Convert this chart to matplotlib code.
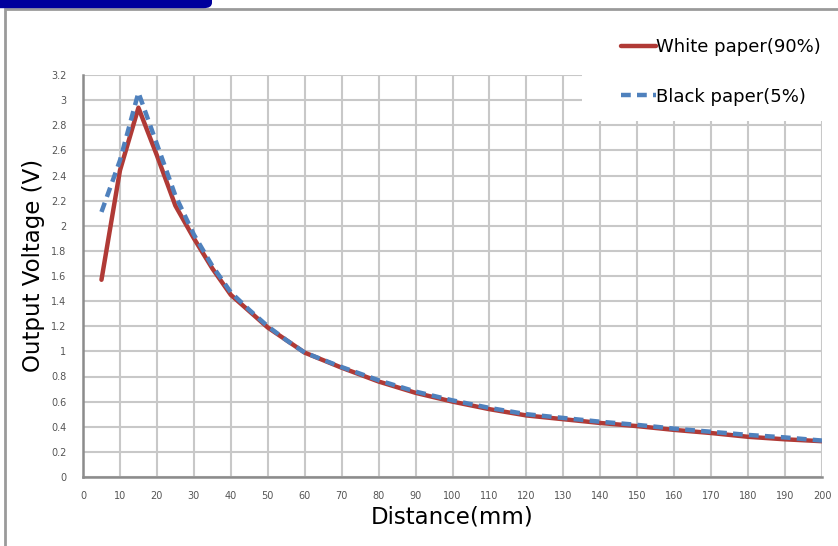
import matplotlib.pyplot as plt
from matplotlib.patches import Rectangle, FancyBboxPatch

# distance in mm
distance = [5, 10, 15, 20, 25, 30, 35, 40, 45, 50, 55, 60, 70, 80, 90, 100,
            110, 120, 130, 140, 150, 160, 170, 180, 190, 200]
# output voltage, white paper (90%)
white_v = [1.57, 2.44, 2.94, 2.56, 2.16, 1.90, 1.66, 1.45, 1.32, 1.19, 1.09, 0.99,
           0.87, 0.76, 0.67, 0.60, 0.54, 0.49, 0.46, 0.43, 0.405, 0.375, 0.35,
           0.32, 0.30, 0.285]
# output voltage, black paper (5%)
black_v = [2.11, 2.52, 3.06, 2.65, 2.24, 1.93, 1.68, 1.47, 1.33, 1.20, 1.09, 0.99,
           0.875, 0.77, 0.68, 0.61, 0.55, 0.50, 0.47, 0.44, 0.415, 0.385, 0.36,
           0.335, 0.315, 0.29]

x_ticks = list(range(0, 201, 10))
y_ticks = [0, 0.2, 0.4, 0.6, 0.8, 1, 1.2, 1.4, 1.6, 1.8, 2, 2.2, 2.4, 2.6, 2.8, 3, 3.2]
y_tick_labels = ["0", "0.2", "0.4", "0.6", "0.8", "1", "1.2", "1.4", "1.6", "1.8",
                 "2", "2.2", "2.4", "2.6", "2.8", "3", "3.2"]

W, H = 838, 546
fig = plt.figure(figsize=(W / 100, H / 100), dpi=100)
ax = fig.add_axes([83 / W, 1 - 477 / H, (822 - 83) / W, (477 - 75) / H])

ax.plot(distance, white_v, color="#B03A36", lw=3.2, label="White paper(90%)",
        solid_capstyle="round", solid_joinstyle="round", zorder=3)
ax.plot(distance, black_v, color="#4F81BD", lw=3.2, ls=(0, (2.2, 1.4)),
        label="Black paper(5%)", zorder=4)

ax.set_xlim(0, 200)
ax.set_ylim(0, 3.2)
ax.set_xticks(x_ticks)
ax.set_yticks(y_ticks)
ax.set_yticklabels(y_tick_labels)
ax.tick_params(length=0, labelsize=7, colors="#555555", pad=12)
ax.tick_params(axis="x", pad=10)
ax.grid(True, color="#C8C8C8", lw=1.5)
ax.set_axisbelow(True)
for side in ["top", "right"]:
    ax.spines[side].set_visible(False)
for side in ["left", "bottom"]:
    ax.spines[side].set_color("#8C8C8C")
    ax.spines[side].set_linewidth(1.8)

ax.set_xlabel("Distance(mm)", fontsize=16.5, labelpad=3)
ax.set_ylabel("Output Voltage (V)", fontsize=16.5)
ax.yaxis.set_label_coords(-0.052, 0.527)

# white box behind legend hides the grid in the corner
ax.add_patch(Rectangle((582 / W, 1 - 121 / H), (W - 582) / W, 101 / H,
                       transform=fig.transFigure, facecolor="white",
                       edgecolor="none", zorder=5, clip_on=False))
leg = ax.legend(loc="center left", bbox_to_anchor=(605 / W, 1 - 72 / H),
                bbox_transform=fig.transFigure, frameon=False, fontsize=13,
                handlelength=1.9, handletextpad=0.0, labelspacing=1.75)
leg.set_zorder(6)

# outer frame and tab at the top
fig.patches.append(Rectangle((5 / W, -0.05), 1.2, (537 / H) + 0.05,
                             transform=fig.transFigure, facecolor="none",
                             edgecolor="#9A9A9A", lw=2))
fig.patches.append(FancyBboxPatch((-10 / W, 0.985), 222 / W, 0.05,
                                  boxstyle="round,pad=0,rounding_size=0.01",
                                  transform=fig.transFigure,
                                  facecolor="#00009C", edgecolor="none"))

fig.savefig("out.png", dpi=100)
